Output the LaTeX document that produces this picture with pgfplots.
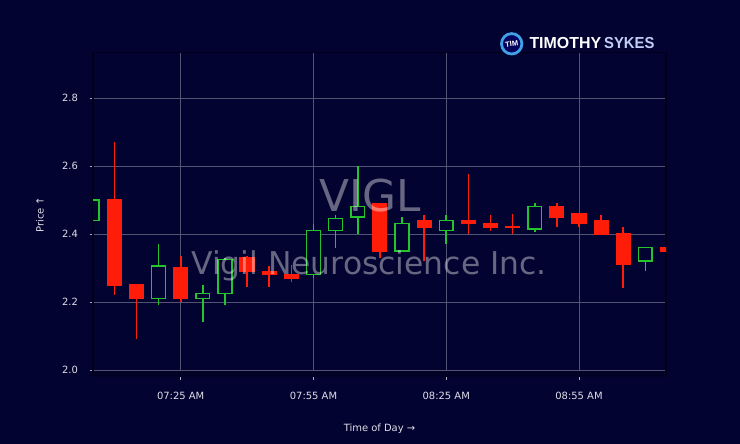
\documentclass[border=0pt]{standalone}
\usepackage{pgfplots}
\pgfplotsset{compat=1.18}
\usepackage{fontspec}
\setmainfont{DejaVu Sans}
\newfontfamily\logofont{Liberation Sans}
\definecolor{bg}{RGB}{2,3,48}
\definecolor{gridc}{RGB}{82,84,116}
\definecolor{spinec}{RGB}{0,0,24}
\definecolor{labc}{RGB}{222,222,232}
\definecolor{tickc}{RGB}{170,170,188}
\definecolor{cred}{RGB}{255,28,8}
\definecolor{cgreen}{RGB}{36,196,44}
\definecolor{logoblue}{RGB}{64,160,232}
\definecolor{sykes}{RGB}{192,206,246}

% \candle{t}{open}{high}{low}{close}
\newcommand\candle[5]{%
  \pgfmathsetmacro\xa{#1-1.55}%
  \pgfmathsetmacro\xb{#1+1.55}%
  \ifdim #5pt<#2pt \def\cc{cred}\def\cf{cred}\else\def\cc{cgreen}\def\cf{bg}\fi
  \edef\doit{%
    \noexpand\addplot[draw=\cc, line width=1.6bp, forget plot] coordinates {(#1,#4) (#1,#3)};
    \noexpand\addplot[draw=\cc, fill=\cf, line width=1.5bp, forget plot] coordinates {(\xa,#2) (\xb,#2) (\xb,#5) (\xa,#5)} -- cycle;
  }\doit
}

\begin{document}
\begin{tikzpicture}
\fill[bg] (0,0) rectangle (740bp,444bp);
\path[use as bounding box] (0,0) rectangle (740bp,444bp);
\begin{axis}[
  at={(93bp,67.3bp)}, anchor=south west,
  scale only axis, width=573bp, height=324bp,
  xmin=5.18, xmax=134.66, ymin=1.98, ymax=2.933,
  xtick={25,55,85,115},
  xticklabels={07:25 AM,07:55 AM,08:25 AM,08:55 AM},
  ytick={2.0,2.2,2.4,2.6,2.8},
  /pgf/number format/assume math mode=true,
  grid=major,
  major grid style={draw=gridc, line width=0.8bp},
  axis line style={draw=spinec, line width=1.2bp},
  tick style={draw=tickc, line width=0.8bp},
  major tick length=3.5bp, tick align=outside, tick pos=left,
  ticklabel style={font=\fontsize{10}{12}\selectfont, text=labc},
  xticklabel style={yshift=-8.7bp},
  yticklabel style={xshift=-8bp, /pgf/number format/.cd, fixed, fixed zerofill, precision=1},
  xlabel={Time of Day →}, ylabel={Price ↑},
  label style={font=\fontsize{10}{12}\selectfont, text=labc},
  xlabel style={at={(axis description cs:0.5,-0.162)}, anchor=center},
  ylabel style={at={(axis description cs:-0.0925,0.5)}, anchor=center},
  clip=true,
]
\fill[spinec!45!bg] (axis cs:5.18,1.98) rectangle (axis cs:134.66,1.9975);
\candle{5}{2.44}{2.50}{2.44}{2.50}
\candle{10}{2.50}{2.67}{2.22}{2.25}
\candle{15}{2.25}{2.25}{2.09}{2.21}
\candle{20}{2.21}{2.37}{2.19}{2.305}
\candle{25}{2.30}{2.335}{2.20}{2.21}
\candle{30}{2.21}{2.25}{2.14}{2.225}
\candle{35}{2.225}{2.33}{2.19}{2.325}
\candle{40}{2.33}{2.335}{2.245}{2.29}
\candle{45}{2.29}{2.305}{2.245}{2.28}
\candle{50}{2.28}{2.31}{2.26}{2.27}
\candle{55}{2.28}{2.43}{2.27}{2.41}
\candle{60}{2.41}{2.455}{2.36}{2.445}
\candle{65}{2.45}{2.60}{2.40}{2.48}
\candle{70}{2.49}{2.49}{2.33}{2.35}
\candle{75}{2.35}{2.45}{2.35}{2.43}
\candle{80}{2.44}{2.455}{2.32}{2.42}
\candle{85}{2.41}{2.455}{2.37}{2.44}
\candle{90}{2.44}{2.575}{2.40}{2.43}
\candle{95}{2.43}{2.455}{2.41}{2.42}
\candle{100}{2.42}{2.46}{2.40}{2.419}
\candle{105}{2.415}{2.49}{2.405}{2.48}
\candle{110}{2.48}{2.49}{2.42}{2.45}
\candle{115}{2.46}{2.46}{2.42}{2.43}
\candle{120}{2.44}{2.455}{2.40}{2.40}
\candle{125}{2.40}{2.42}{2.24}{2.31}
\candle{130}{2.32}{2.36}{2.29}{2.36}
\candle{135}{2.36}{2.37}{2.35}{2.35}
\end{axis}
% watermark
\node[anchor=base, inner sep=0pt, text=white, text opacity=0.4] at (370bp,232.3bp) {\fontsize{44}{48}\selectfont VIGL};
\node[anchor=base, inner sep=0pt, text=white, text opacity=0.4] at (369bp,169bp) {\fontsize{31.5}{34}\selectfont Vigil Neuroscience Inc.};
% logo
\fill[bg!80!blue] (511.7bp,400.2bp) circle (10bp);
\draw[logoblue, line width=2.8bp] (511.7bp,400.2bp) circle (10.2bp);
\node[inner sep=0pt, text=white, rotate=8] at (511.7bp,400.2bp) {\logofont\bfseries\fontsize{7.5}{8}\selectfont TIM};
\node[anchor=base west, inner sep=0pt, text=white] at (529.3bp,395.7bp) {\logofont\bfseries\fontsize{16}{17}\selectfont TIMOTHY};
\node[anchor=base west, inner sep=0pt, text=sykes, xscale=0.93] at (604bp,395.7bp) {\logofont\bfseries\fontsize{16}{17}\selectfont SYKES};
\end{tikzpicture}
\end{document}
